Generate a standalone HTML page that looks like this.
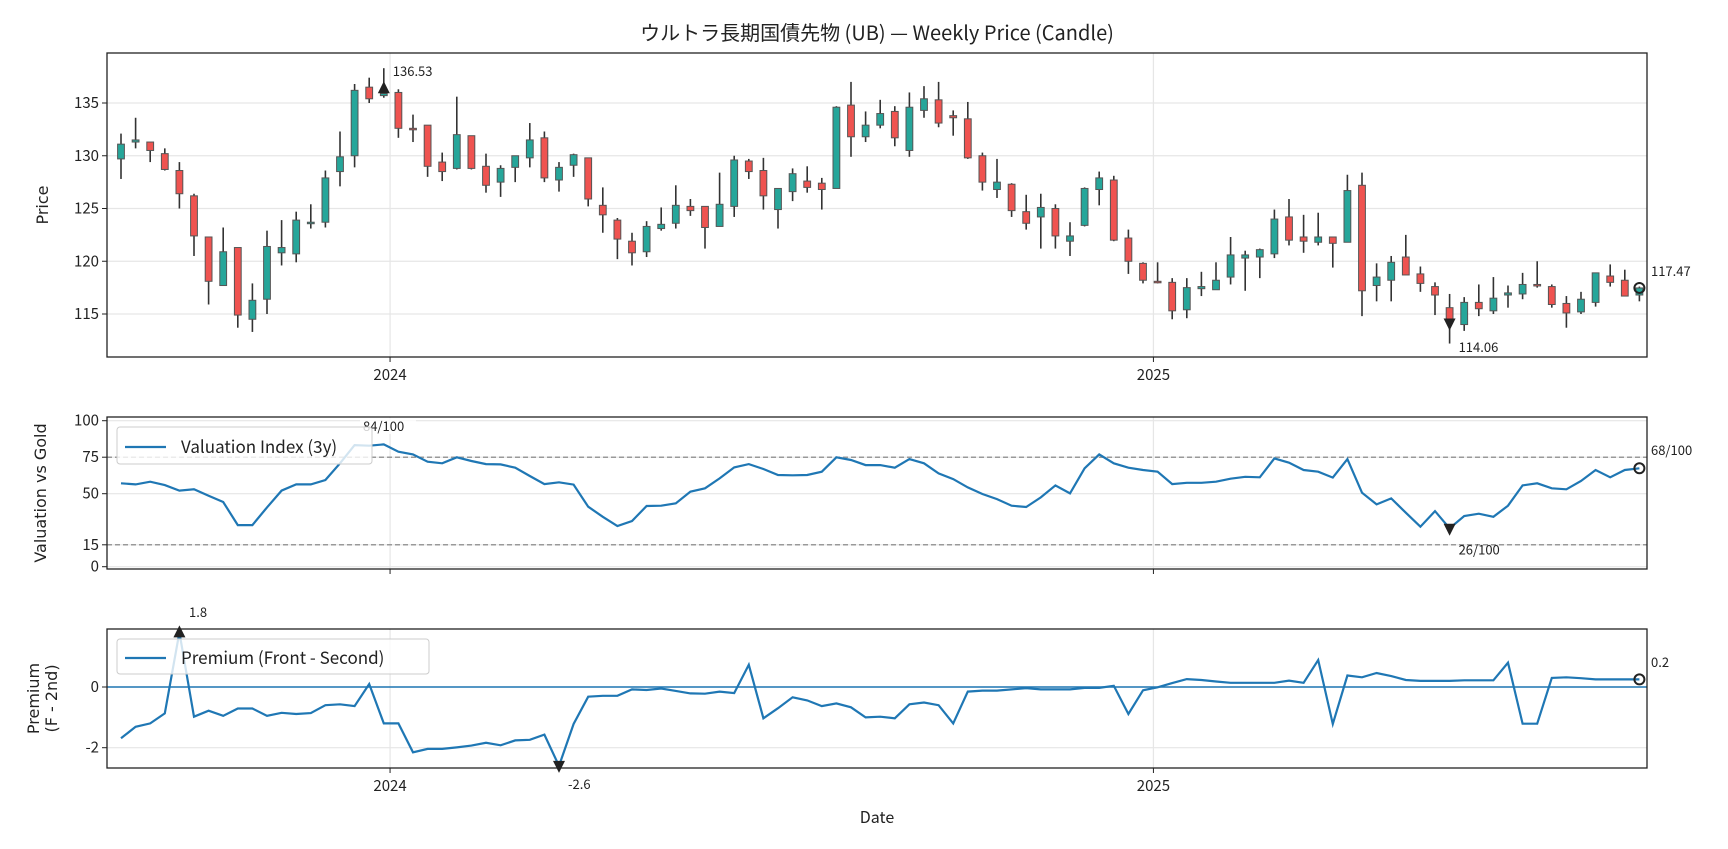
<!DOCTYPE html>
<html><head><meta charset="utf-8">
<style>
html,body{margin:0;padding:0;background:#fff;}
svg{display:block;}
text{font-family:"Noto Sans CJK JP","IPAGothic","Liberation Sans",sans-serif;fill:#222;}
.lab{font-family:"DejaVu Sans","Liberation Sans",sans-serif;}
</style></head>
<body>
<svg id="chart" width="1728" height="849" viewBox="0 0 1728 849" xmlns="http://www.w3.org/2000/svg">
<text x="877" y="40" font-size="20" text-anchor="middle" style="font-family:'Noto Sans CJK JP',sans-serif">ウルトラ長期国債先物 (UB) — Weekly Price (Candle)</text>
<g id="p1"></g>
<g id="p2"></g>
<g id="p3"></g>
</svg>
<script>
const startDate = "2023-08-25";
const opens  = [129.7,131.3,131.3,130.2,128.6,126.2,122.3,117.7,121.3,114.5,116.4,120.8,120.7,123.6,123.7,128.5,130.0,136.5,135.7,136.0,132.6,132.9,129.4,128.8,131.9,129.0,127.5,128.9,129.8,131.7,127.7,129.1,129.8,125.3,123.9,121.9,120.9,123.1,123.6,125.2,125.2,123.3,125.2,129.5,128.6,124.9,126.6,127.6,127.4,126.9,134.8,131.8,132.9,134.2,130.5,134.3,135.3,133.8,133.5,130.0,126.8,127.3,124.7,124.2,125.0,121.9,123.4,126.8,127.7,122.2,119.8,118.1,118.0,115.4,117.4,117.3,118.5,120.3,120.4,120.7,124.2,122.3,121.8,122.3,121.8,127.2,117.7,118.2,120.4,118.8,117.6,115.6,114.0,116.1,115.3,116.8,116.9,117.8,117.6,116.0,115.2,116.1,118.6,118.2,116.8];
const closes = [131.1,131.5,130.5,128.7,126.4,122.4,118.1,120.9,114.9,116.3,121.4,121.3,123.9,123.7,127.9,129.9,136.2,135.4,135.9,132.6,132.5,129.0,128.5,132.0,128.8,127.2,128.8,130.0,131.5,127.9,128.9,130.1,125.9,124.4,122.1,120.8,123.3,123.5,125.3,124.8,123.2,125.4,129.6,128.5,126.2,126.9,128.3,127.0,126.8,134.6,131.8,132.9,134.0,131.7,134.6,135.4,133.1,133.6,129.8,127.5,127.5,124.8,123.6,125.1,122.4,122.4,126.9,127.9,122.0,120.0,118.2,118.0,115.3,117.5,117.6,118.2,120.6,120.6,121.1,124.0,122.0,121.9,122.3,121.7,126.7,117.2,118.5,119.9,118.7,117.9,116.8,114.5,116.1,115.5,116.5,117.0,117.8,117.7,115.9,115.1,116.4,118.9,118.0,116.7,117.47];
const highs  = [132.1,133.6,131.3,130.7,129.4,126.4,122.3,123.2,121.3,117.9,122.9,123.9,124.7,125.4,128.6,132.3,136.8,137.4,138.3,136.3,133.9,132.9,130.3,135.6,131.9,130.2,129.1,130.0,133.1,132.3,129.4,130.2,129.8,127.0,124.1,122.7,123.8,125.1,127.2,125.9,125.2,128.4,130.0,129.7,129.8,126.9,128.8,129.0,127.9,134.7,137.0,134.2,135.3,134.7,136.0,136.6,137.0,134.3,135.1,130.3,129.7,127.4,126.3,126.4,125.4,123.7,127.0,128.5,128.1,123.0,119.9,119.9,118.4,118.4,119.0,119.9,122.3,121.0,121.2,124.9,125.9,124.4,124.6,122.3,128.2,128.4,119.8,120.5,122.5,119.5,118.0,116.9,116.6,117.8,118.5,117.7,118.9,120.0,117.8,116.7,117.1,118.9,119.7,119.2,117.6];
const lows   = [127.8,130.7,129.4,128.6,125.0,120.5,115.9,117.7,113.7,113.3,115.0,119.6,119.9,123.1,123.2,127.1,128.9,135.0,135.5,131.7,131.3,128.0,127.6,128.7,128.7,126.5,126.1,127.5,128.9,127.5,126.6,128.0,125.2,122.7,120.2,119.6,120.4,122.9,123.1,124.3,121.2,123.3,124.2,127.8,124.9,123.1,125.7,126.5,124.9,126.9,129.9,131.3,132.6,130.9,129.9,133.6,132.7,131.9,129.7,126.7,126.0,124.2,123.0,121.2,121.2,120.5,123.3,125.3,121.9,118.8,117.9,117.9,114.5,114.6,116.7,117.3,117.8,117.2,118.4,120.3,121.5,120.8,121.5,119.4,121.8,114.8,116.2,116.2,118.7,117.1,114.9,112.2,113.4,114.8,115.0,115.6,116.4,117.5,115.6,113.7,115.0,115.7,117.6,116.7,116.2];
const valuation = [57.1,56.4,58.2,55.9,52.1,53.0,48.6,44.3,28.5,28.5,40.6,52.1,56.4,56.4,59.4,70.8,83.3,82.9,83.8,78.8,76.9,71.9,70.8,74.9,72.4,70.3,70.1,67.8,62.1,56.6,57.8,56.2,41.1,34.2,27.9,31.3,41.6,41.8,43.4,51.4,53.7,60.5,68.0,70.3,66.9,62.8,62.6,62.8,65.1,74.9,73.1,69.6,69.6,67.8,73.7,70.8,63.9,60.0,54.3,49.8,46.3,41.8,40.9,47.5,55.7,50.2,67.4,76.9,70.8,67.8,66.2,65.1,56.6,57.5,57.5,58.2,60.3,61.6,61.2,74.2,71.2,66.2,65.1,61.0,73.7,50.7,42.7,46.8,37.0,27.4,38.1,26.3,34.7,36.3,34.2,41.8,55.7,57.1,53.7,53.0,58.7,66.2,61.2,66.2,67.4];
const premium = [-1.69,-1.31,-1.20,-0.87,1.8,-0.98,-0.78,-0.95,-0.71,-0.71,-0.95,-0.85,-0.89,-0.86,-0.60,-0.57,-0.63,0.10,-1.20,-1.20,-2.15,-2.04,-2.04,-1.99,-1.93,-1.84,-1.92,-1.76,-1.74,-1.57,-2.6,-1.22,-0.32,-0.29,-0.29,-0.08,-0.10,-0.05,-0.13,-0.21,-0.22,-0.15,-0.20,0.73,-1.03,-0.70,-0.34,-0.44,-0.63,-0.54,-0.67,-1.00,-0.98,-1.03,-0.57,-0.51,-0.60,-1.20,-0.15,-0.12,-0.12,-0.08,-0.04,-0.08,-0.08,-0.08,-0.03,-0.03,0.04,-0.89,-0.11,-0.01,0.13,0.26,0.23,0.18,0.14,0.14,0.14,0.14,0.21,0.14,0.89,-1.22,0.38,0.32,0.46,0.36,0.23,0.20,0.20,0.20,0.22,0.22,0.22,0.80,-1.21,-1.21,0.30,0.32,0.29,0.25,0.25,0.25,0.25];
const priceTicks = [115,120,125,130,135];
const valTicks = [0,15,50,75,100];
const premTicks = [-2,0];
const yearTicks = ["2024-01-01","2025-01-01"];
const yearLabels = ["2024","2025"];

const NS="http://www.w3.org/2000/svg";
function mk(parent,tag,attrs){const e=document.createElementNS(NS,tag);for(const k in attrs)e.setAttribute(k,attrs[k]);parent.appendChild(e);return e;}
const L=107,R=1647;
const t0=new Date(startDate+"T00:00:00Z").getTime();
function xw(ms){return 121+(ms-t0)/(7*86400000)*14.6;}
function xi(i){return xw(t0+i*7*86400000);}
function lin(d0,d1,r0,r1){return v=>r0+(v-d0)/(d1-d0)*(r1-r0);}
const P1={top:53,bot:357,y:lin(115,135,314,103)};
const P2={top:417,bot:569,y:lin(0,100,566.7,420.7)};
const P3={top:629,bot:768,y:lin(-2,0,747.7,687)};

function frame(g,P,ticks,showX){
  ticks.forEach(t=>{const l=mk(g,'line',{x1:L,x2:R,y1:P.y(t),y2:P.y(t),stroke:'#e6e6e6','stroke-width':1.2});
    
    const tk=mk(g,'line',{x1:L-5,x2:L,y1:P.y(t),y2:P.y(t),stroke:'#222','stroke-width':1});
    
    const tx=mk(g,'text',{x:L-8,y:P.y(t)+5,'font-size':15,'text-anchor':'end'});tx.textContent=t;
    });
  yearTicks.forEach((d,k)=>{const x=xw(new Date(d+"T00:00:00Z").getTime());
    const l=mk(g,'line',{x1:x,x2:x,y1:P.top,y2:P.bot,stroke:'#e6e6e6','stroke-width':1.2});
    
    const tk=mk(g,'line',{x1:x,x2:x,y1:P.bot,y2:P.bot+5,stroke:'#222','stroke-width':1});
    
    if(showX){const tx=mk(g,'text',{x:x,y:P.bot+23,'font-size':15,'text-anchor':'middle'});tx.textContent=yearLabels[k];
      }});
}
function border(g,P){const r=mk(g,'rect',{x:L,y:P.top,width:R-L,height:P.bot-P.top,fill:'none',stroke:'#222','stroke-width':1.3});
  }
function label(g,x,y,s,cls,size,col,anchor){const t=mk(g,'text',{x:x,y:y,'font-size':size||13,'text-anchor':anchor||'start',fill:col||'#555'});t.textContent=s;if(cls)t.setAttribute('class',cls);return t;}
function tri(g,x,y,up){const s=6;const p=up?`${x-s},${y+5} ${x+s},${y+5} ${x},${y-7}`:`${x-s},${y-5} ${x+s},${y-5} ${x},${y+7}`;return mk(g,'polygon',{points:p,fill:'#222'});}

const g1=document.getElementById('p1');
frame(g1,P1,priceTicks,true);
opens.forEach((o,i)=>{const c=closes[i],x=xi(i),up=c>=o;
  const w=mk(g1,'line',{x1:x,x2:x,y1:P1.y(highs[i]),y2:P1.y(lows[i]),stroke:'#333','stroke-width':1.6});
  
  const top=P1.y(Math.max(o,c)),bot=P1.y(Math.min(o,c));
  const b=mk(g1,'rect',{x:x-3.4,y:top,width:6.8,height:Math.max(bot-top,1.5),fill:up?'#26a69a':'#ef5350',stroke:'#555','stroke-width':1});
  });
border(g1,P1);
let t=tri(g1,xi(18),P1.y(136.4),true);
t=label(g1,xi(18)+9,P1.y(136.4)-12,'136.53');
t=tri(g1,xi(91),P1.y(114.1),false);
t=label(g1,xi(91)+9,P1.y(114.06)+28,'114.06');
t=mk(g1,'circle',{cx:xi(104),cy:P1.y(117.47),r:5,fill:'none',stroke:'#222','stroke-width':2});
t=label(g1,1651,P1.y(117.47)-12,'117.47');
t=label(g1,0,0,'Price','lab',16,'#222','middle');t.setAttribute('transform',`translate(48,${(P1.top+P1.bot)/2}) rotate(-90)`);


const g2=document.getElementById('p2');
frame(g2,P2,valTicks,false);
[75,15].forEach(v=>{const l=mk(g2,'line',{x1:L,x2:R,y1:P2.y(v),y2:P2.y(v),stroke:'#999','stroke-width':1.5,'stroke-dasharray':'5,3'});
  });
let pts=valuation.map((v,i)=>xi(i).toFixed(1)+','+P2.y(v).toFixed(1)).join(' ');
t=mk(g2,'polyline',{points:pts,fill:'none',stroke:'#1f77b4','stroke-width':2.2});
border(g2,P2);
t=tri(g2,xi(91),P2.y(26),false);
t=label(g2,xi(91)+9,P2.y(26)+26,'26/100');
t=mk(g2,'rect',{x:360,y:418,width:56,height:16,fill:'#fff',opacity:0.8});
t=label(g2,363,431,'84/100');
t=mk(g2,'circle',{cx:xi(104),cy:P2.y(67.4),r:5,fill:'none',stroke:'#222','stroke-width':2});
t=label(g2,1651,455,'68/100');
t=mk(g2,'rect',{x:117,y:427,width:255,height:37,rx:3,fill:'#fff','fill-opacity':0.8,stroke:'#ccc'});
t=mk(g2,'line',{x1:125,x2:166,y1:447,y2:447,stroke:'#1f77b4','stroke-width':2.2});
t=label(g2,181,453,'Valuation Index (3y)',null,17,'#222');
t=label(g2,0,0,'Valuation vs Gold','lab',16,'#222','middle');t.setAttribute('transform',`translate(46,${(P2.top+P2.bot)/2}) rotate(-90)`);


const g3=document.getElementById('p3');
frame(g3,P3,premTicks,true);
t=mk(g3,'line',{x1:L,x2:R,y1:P3.y(0),y2:P3.y(0),stroke:'#1f77b4','stroke-width':1.5});
pts=premium.map((v,i)=>xi(i).toFixed(1)+','+P3.y(v).toFixed(1)).join(' ');
t=mk(g3,'polyline',{points:pts,fill:'none',stroke:'#1f77b4','stroke-width':2.2});
border(g3,P3);
t=tri(g3,xi(4),P3.y(1.8),true);
t=label(g3,189,617,'1.8');
t=tri(g3,xi(30),P3.y(-2.6),false);
t=label(g3,568,789,'-2.6');
t=mk(g3,'circle',{cx:xi(104),cy:P3.y(0.25),r:5,fill:'none',stroke:'#222','stroke-width':2});
t=label(g3,1651,667,'0.2');
t=mk(g3,'rect',{x:117,y:639,width:312,height:35,rx:3,fill:'#fff','fill-opacity':0.8,stroke:'#ccc'});
t=mk(g3,'line',{x1:125,x2:166,y1:658,y2:658,stroke:'#1f77b4','stroke-width':2.2});
t=label(g3,181,664,'Premium (Front - Second)',null,17,'#222');
t=label(g3,0,0,'Premium','lab',16,'#222','middle');t.setAttribute('transform',`translate(39,${(P3.top+P3.bot)/2}) rotate(-90)`);

t=label(g3,0,0,'(F - 2nd)','lab',16,'#222','middle');t.setAttribute('transform',`translate(57,${(P3.top+P3.bot)/2}) rotate(-90)`);

t=label(g3,877,823,'Date',null,16,'#222','middle');
</script>
</body></html>
